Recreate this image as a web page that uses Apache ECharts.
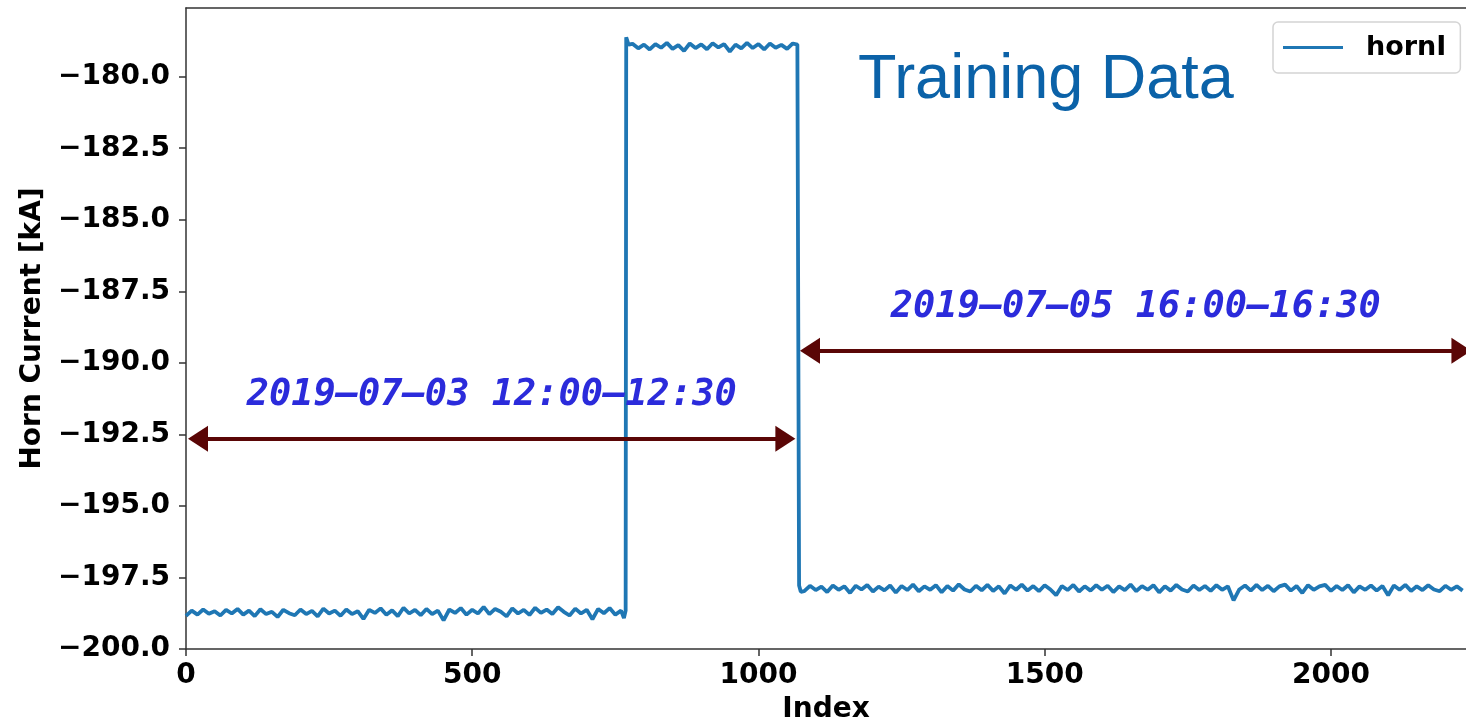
<!DOCTYPE html>
<html>
<head>
<meta charset="utf-8">
<script src="https://cdn.jsdelivr.net/npm/echarts@6/dist/echarts.min.js"></script>
<style>
  html, body { margin: 0; padding: 0; background: #fff; }
  #chart { width: 1466px; height: 725px; }
</style>
</head>
<body>
<div id="chart"></div>
<script>
// tick labels
const yTicks = [-200, -197.5, -195, -192.5, -190, -187.5, -185, -182.5, -180];
const xTicks = [0, 500, 1000, 1500, 2000];

// first run (2019-07-03), sampled every 10 indices from 0
const run1Start = 0;
const run1 = [
  -198.84, -198.66, -198.80, -198.62, -198.77, -198.68, -198.83, -198.63, -198.76, -198.60,
  -198.80, -198.66, -198.85, -198.61, -198.78, -198.70, -198.88, -198.63, -198.75, -198.82,
  -198.62, -198.78, -198.67, -198.86, -198.59, -198.76, -198.66, -198.84, -198.62, -198.78,
  -198.68, -198.95, -198.63, -198.74, -198.58, -198.80, -198.65, -198.85, -198.56, -198.76,
  -198.63, -198.82, -198.60, -198.78, -198.66, -199.00, -198.62, -198.74, -198.57, -198.80,
  -198.63, -198.76, -198.53, -198.78, -198.60, -198.70, -198.86, -198.58, -198.76, -198.63,
  -198.81, -198.56, -198.74, -198.62, -198.78, -198.54, -198.70, -198.83, -198.59, -198.76,
  -198.63, -198.96, -198.60, -198.75, -198.57, -198.80, -198.66
];
// edge points around the two jumps: [index, value]
const edge1 = [[765, -198.92], [768, -198.66], [769, -178.62], [773, -178.88]];
// high plateau, every 10 indices from 780
const highStart = 780;
const high = [
  -178.85, -179.01, -178.88, -179.05, -178.86, -178.99, -178.82, -179.03, -178.90, -179.10,
  -178.84, -179.00, -178.87, -179.04, -178.83, -178.98, -178.86, -179.12, -178.88, -179.01,
  -178.82, -179.00, -178.86, -179.05, -178.84, -178.99, -178.89, -179.03, -178.84
];
const edge2 = [[1068, -178.88], [1071, -197.78], [1074, -198.00]];
// second run (2019-07-05), every 10 indices from 1080
const run2Start = 1080;
const run2 = [
  -197.98, -197.79, -197.94, -197.82, -198.01, -197.78, -197.93, -197.81, -198.04, -197.79,
  -197.92, -197.76, -197.99, -197.82, -197.95, -197.78, -198.03, -197.80, -197.94, -197.75,
  -197.98, -197.81, -197.93, -197.77, -198.02, -197.80, -197.96, -197.74, -197.92, -197.99,
  -197.79, -197.95, -197.76, -197.97, -197.81, -198.06, -197.78, -197.93, -197.75, -197.96,
  -197.80, -197.98, -197.77, -197.92, -198.12, -197.80, -197.94, -197.76, -197.99, -197.81,
  -197.96, -197.77, -197.93, -197.79, -198.01, -197.81, -197.94, -197.75, -197.98, -197.80,
  -197.93, -197.77, -198.02, -197.81, -197.96, -197.76, -197.92, -197.99, -197.78, -197.94,
  -197.80, -197.97, -197.77, -197.93, -197.81, -198.30, -197.92, -197.78, -197.96, -197.76,
  -197.94, -197.79, -197.98, -197.81, -197.75, -197.96, -197.80, -198.04, -197.77, -197.93,
  -197.81, -197.76, -197.97, -197.80, -197.94, -197.77, -198.02, -197.81, -197.93, -197.78,
  -197.96, -197.80, -198.12, -197.78, -197.93, -197.76, -197.97, -197.81, -197.94, -197.77,
  -197.92, -197.98, -197.79, -197.93, -197.81, -197.96
];

// annotated time ranges: [fromIndex, toIndex, level, text]
const ranges = [
  [21, 1047, -192.65, '2019–07–03 12:00–12:30'],
  [1090, 2228, -189.58, '2019–07–05 16:00–16:30']
];

const step = 10;
const seg = (start, vals) => vals.map((v, i) => [start + i * step, v]);
const hornI = [].concat(seg(run1Start, run1), edge1, seg(highStart, high), edge2, seg(run2Start, run2));

const tickFont = { fontFamily: 'DejaVu Sans', fontWeight: 'bold', fontSize: 28, color: '#000' };
const fmtY = v => v.toFixed(1).replace('-', '\u2212');

const chart = echarts.init(document.getElementById('chart'));
chart.setOption({
  animation: false,
  title: {
    text: 'Training Data',
    left: 853,
    top: 44,
    textStyle: { fontFamily: 'Liberation Sans', fontWeight: 'normal', fontSize: 63, color: '#0b62a8' }
  },
  legend: {
    left: 1273,
    top: 22,
    padding: [12, 14, 12, 10],
    borderColor: '#d4d4d4',
    borderWidth: 1.5,
    borderRadius: 5,
    icon: 'rect',
    itemWidth: 60,
    itemHeight: 3,
    textStyle: { fontFamily: 'DejaVu Sans', fontWeight: 'bold', fontSize: 27, color: '#000', padding: [0, 0, 0, 18] },
    data: ['hornI']
  },
  grid: { left: 186, right: 0, top: 8, bottom: 76, outerBoundsMode: 'none', containLabel: false },
  xAxis: [{
    type: 'value',
    min: 0,
    max: 2236,
    interval: 500,
    name: 'Index',
    nameLocation: 'middle',
    nameGap: 47,
    nameTextStyle: tickFont,
    axisLine: { onZero: false, lineStyle: { color: '#333', width: 1.5 } },
    axisTick: { length: 7, lineStyle: { color: '#333', width: 1.5 }, customValues: xTicks },
    axisLabel: Object.assign({ margin: 13, customValues: xTicks, formatter: v => String(v) }, tickFont),
    splitLine: { show: false }
  }, {
    type: 'value',
    position: 'top',
    min: 0,
    max: 2236,
    axisLine: { onZero: false, lineStyle: { color: '#333', width: 1.5 } },
    axisTick: { show: false },
    axisLabel: { show: false },
    splitLine: { show: false }
  }],
  yAxis: {
    type: 'value',
    min: -200,
    max: -177.6,
    interval: 2.5,
    name: 'Horn Current [kA]',
    nameLocation: 'middle',
    nameGap: 138,
    nameTextStyle: tickFont,
    axisLine: { show: true, onZero: false, lineStyle: { color: '#333', width: 1.5 } },
    axisTick: { show: true, length: 7, lineStyle: { color: '#333', width: 1.5 }, customValues: yTicks },
    axisLabel: Object.assign({ margin: 16, customValues: yTicks, formatter: fmtY }, tickFont),
    splitLine: { show: false }
  },
  series: [{
    name: 'hornI',
    type: 'line',
    data: hornI,
    symbol: 'none',
    itemStyle: { color: '#1f77b4' },
    lineStyle: { color: '#1f77b4', width: 3.8 },
    z: 2,
    markLine: {
      silent: true,
      symbol: ['triangle', 'triangle'],
      symbolSize: [26, 20],
      lineStyle: { color: '#5a0606', width: 4, type: 'solid' },
      label: {
        show: true,
        position: 'middle',
        distance: 25,
        fontFamily: 'DejaVu Sans Mono',
        fontWeight: 'bold',
        fontStyle: 'italic',
        fontSize: 37,
        color: '#2b2bdb'
      },
      data: ranges.map(r => [
        { coord: [r[0], r[2]], label: { formatter: r[3] } },
        { coord: [r[1], r[2]] }
      ])
    }
  }]
});
</script>
</body>
</html>
